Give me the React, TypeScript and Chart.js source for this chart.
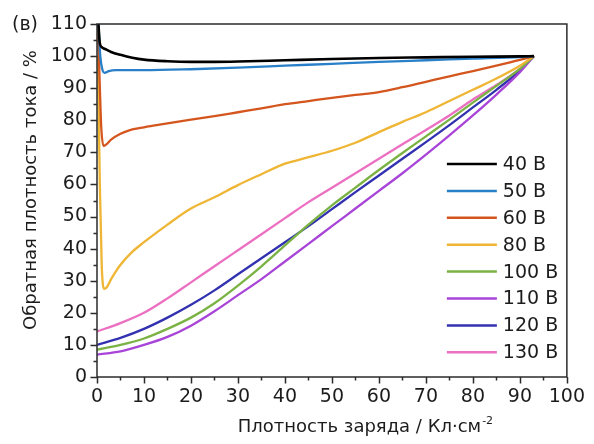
import React, { useEffect, useRef } from "react";
import { Chart, registerables } from "chart.js";

Chart.register(...registerables);

const FONT_FAMILY = "'DejaVu Sans', 'Liberation Sans', Arial, sans-serif";
const AXIS_COLOR = "#2b2b2b";
const TEXT_COLOR = "#1c1c1c";

const panelLabel = "(в)";
const xTitle = "Плотность заряда / Кл·см";
const xTitleSup = "-2";
const yTitle = "Обратная плотность тока / %";

const xMin = 0;
const xMax = 100;
const xStep = 10;
const yMin = 0;
const yMax = 110;
const yStep = 10;

const seriesLabels = ["40 В", "50 В", "60 В", "80 В", "100 В", "110 В", "120 В", "130 В"];
const seriesColors = ["#000000", "#2a80c8", "#d4561e", "#efb534", "#7ab244", "#a845d8", "#3232b0", "#ec70c2"];

// 40 В
const x40 = [0.3, 0.6, 1, 2, 3, 5, 7.5, 10, 15, 20, 25, 30, 40, 50, 60, 70, 80, 90, 93];
const y40 = [110, 104, 102.8, 102, 101.3, 100.4, 99.5, 98.9, 98.4, 98.2, 98.2, 98.3, 98.7, 99.1, 99.4, 99.6, 99.8, 99.9, 100];

// 50 В
const x50 = [0.3, 0.7, 1.2, 1.6, 2.5, 4, 10, 20, 30, 40, 50, 60, 70, 80, 90, 93];
const y50 = [110, 100, 95.5, 94.8, 95.3, 95.6, 95.6, 95.9, 96.4, 97, 97.6, 98.2, 98.7, 99.2, 99.7, 100];

// 60 В
const x60 = [0.15, 0.5, 0.9, 1.4, 2, 3, 5, 6.7, 10, 15, 20, 25, 30, 35, 40, 45, 50, 55, 60, 65, 70, 75, 80, 85, 90, 93];
const y60 = [110, 95, 78, 72, 72.5, 74, 75.8, 76.8, 77.8, 79, 80.2, 81.3, 82.5, 83.7, 85, 86, 87, 87.9, 88.8, 90.3, 92, 93.7, 95.3, 97, 98.8, 100];

// 80 В
const x80 = [0.2, 0.6, 1, 1.5, 2, 3, 5, 7.5, 10, 15, 20, 25, 30, 35, 40, 42, 45, 50, 55, 60, 65, 70, 75, 80, 85, 90, 93];
const y80 = [100, 60, 35, 27.5, 27.8, 30.5, 35, 39, 42, 47.5, 52.5, 56, 59.8, 63.2, 66.5, 67.3, 68.5, 70.5, 73, 76.3, 79.5, 82.5, 86, 89.5, 93, 97, 100];

// shared grid for smooth series
const gridX = [0, 5, 10, 15, 20, 25, 30, 35, 40, 45, 50, 55, 60, 65, 70, 75, 80, 85, 90, 93];
const y100 = [8.5, 10, 12, 15, 18.5, 23, 28.5, 34.5, 41, 47.5, 53.5, 59, 64.5, 69.8, 75, 80.2, 85.5, 90.7, 96, 100];
const y110 = [7, 8, 10, 12.5, 16, 20.5, 25.5, 30.5, 36, 41.5, 47, 52.5, 58, 63.5, 69.3, 75.3, 81.5, 88, 95, 100];
const y120 = [10, 12.2, 15, 18.5, 22.5, 27, 32, 37, 42, 47, 52.3, 57.6, 62.8, 68, 73.2, 78.5, 84, 89.5, 95.5, 100];
const y130 = [14.2, 16.8, 20, 24.5, 29.5, 34.5, 39.5, 44.5, 49.5, 54.5, 59, 63.5, 68, 72.5, 77, 81.5, 86.5, 91, 96, 100];

const seriesX = [x40, x50, x60, x80, gridX, gridX, gridX, gridX];
const seriesY = [y40, y50, y60, y80, y100, y110, y120, y130];

const zip = (xs: number[], ys: number[]) => xs.map((x, i) => ({ x, y: ys[i] }));

const decorPlugin = {
  id: "decor",
  afterDraw(chart: any) {
    const ctx = chart.ctx as CanvasRenderingContext2D;
    const { left, right, top, bottom } = chart.chartArea;
    const xs = chart.scales.x;
    const ys = chart.scales.y;
    ctx.save();
    ctx.strokeStyle = AXIS_COLOR;
    ctx.lineWidth = 1.5;
    ctx.strokeRect(left, top, right - left, bottom - top);
    // ticks (major + minor, outward)
    ctx.beginPath();
    for (let v = xMin; v <= xMax + 1e-9; v += xStep / 2) {
      const px = Math.round(xs.getPixelForValue(v)) + 0.5;
      const len = Math.abs(v % xStep) < 1e-9 ? 6.5 : 3.5;
      ctx.moveTo(px, bottom);
      ctx.lineTo(px, bottom + len);
    }
    for (let v = yMin; v <= yMax + 1e-9; v += yStep / 2) {
      const py = Math.round(ys.getPixelForValue(v)) + 0.5;
      const len = Math.abs(v % yStep) < 1e-9 ? 6.5 : 3.5;
      ctx.moveTo(left, py);
      ctx.lineTo(left - len, py);
    }
    ctx.stroke();

    // panel label
    ctx.fillStyle = TEXT_COLOR;
    ctx.font = `19px ${FONT_FAMILY}`;
    ctx.textAlign = "left";
    ctx.textBaseline = "middle";
    ctx.fillText(panelLabel, 12, top + 1);

    // x title with superscript
    ctx.font = `18px ${FONT_FAMILY}`;
    const mainW = ctx.measureText(xTitle).width;
    ctx.font = `11px ${FONT_FAMILY}`;
    const supW = ctx.measureText(xTitleSup).width;
    const cx = (left + right) / 2 + 33;
    const startX = cx - (mainW + supW) / 2;
    ctx.font = `18px ${FONT_FAMILY}`;
    ctx.textBaseline = "alphabetic";
    ctx.fillText(xTitle, startX, 432);
    ctx.font = `11px ${FONT_FAMILY}`;
    ctx.fillText(xTitleSup, startX + mainW + 1, 424);

    // y title
    ctx.save();
    ctx.translate(31, 190);
    ctx.rotate(-Math.PI / 2);
    ctx.font = `18px ${FONT_FAMILY}`;
    ctx.textAlign = "center";
    ctx.textBaseline = "middle";
    ctx.fillText(yTitle, 0, 0);
    ctx.restore();

    // legend
    const lx0 = right - 120;
    const lx1 = right - 70;
    const tx = right - 64;
    const ly0 = top + 140;
    const dy = 26.9;
    ctx.font = `19px ${FONT_FAMILY}`;
    ctx.textAlign = "left";
    ctx.textBaseline = "middle";
    chart.data.datasets.forEach((ds: any, i: number) => {
      const yy = ly0 + i * dy;
      ctx.strokeStyle = ds.borderColor;
      ctx.lineWidth = 2.5;
      ctx.beginPath();
      ctx.moveTo(lx0, yy);
      ctx.lineTo(lx1, yy);
      ctx.stroke();
      ctx.fillStyle = TEXT_COLOR;
      ctx.fillText(ds.label, tx, yy + 1);
    });
    ctx.restore();
  },
};

export default function App() {
  const canvasRef = useRef<HTMLCanvasElement | null>(null);

  useEffect(() => {
    document.body.style.margin = "0";
    const canvas = canvasRef.current;
    if (!canvas) return;
    const datasets = seriesLabels.map((label, i) => ({
      label,
      data: zip(seriesX[i], seriesY[i]),
      borderColor: seriesColors[i],
      backgroundColor: seriesColors[i],
      borderWidth: i === 0 ? 2.6 : 2.3,
      pointRadius: 0,
      tension: 0.4,
      cubicInterpolationMode: "monotone" as const,
      fill: false,
      clip: 0,
    }));
    const chart = new Chart(canvas, {
      type: "line",
      data: { datasets },
      options: {
        animation: false,
        responsive: false,
        maintainAspectRatio: false,
        devicePixelRatio: 1,
        layout: { padding: { top: 24, right: 27, left: 0, bottom: 0 } },
        plugins: { legend: { display: false }, tooltip: { enabled: false }, title: { display: false } },
        scales: {
          x: {
            type: "linear",
            min: xMin,
            max: xMax,
            grid: { display: false, drawTicks: false },
            border: { display: false },
            ticks: {
              stepSize: xStep,
              padding: 9,
              color: TEXT_COLOR,
              font: { family: FONT_FAMILY, size: 19 },
              maxRotation: 0,
              autoSkip: false,
            },
            afterFit: (s: any) => {
              s.height = 444 - 24 - 353;
            },
          },
          y: {
            type: "linear",
            min: yMin,
            max: yMax,
            grid: { display: false, drawTicks: false },
            border: { display: false },
            ticks: {
              stepSize: yStep,
              padding: 10,
              color: TEXT_COLOR,
              font: { family: FONT_FAMILY, size: 19 },
              autoSkip: false,
            },
            afterFit: (s: any) => {
              s.width = 97;
            },
          },
        },
      },
      plugins: [decorPlugin],
    });
    return () => chart.destroy();
  }, []);

  return (
    <div style={{ position: "absolute", left: 0, top: 0, width: 594, height: 444, background: "#fff" }}>
      <canvas ref={canvasRef} width={594} height={444} style={{ width: 594, height: 444 }} />
    </div>
  );
}
